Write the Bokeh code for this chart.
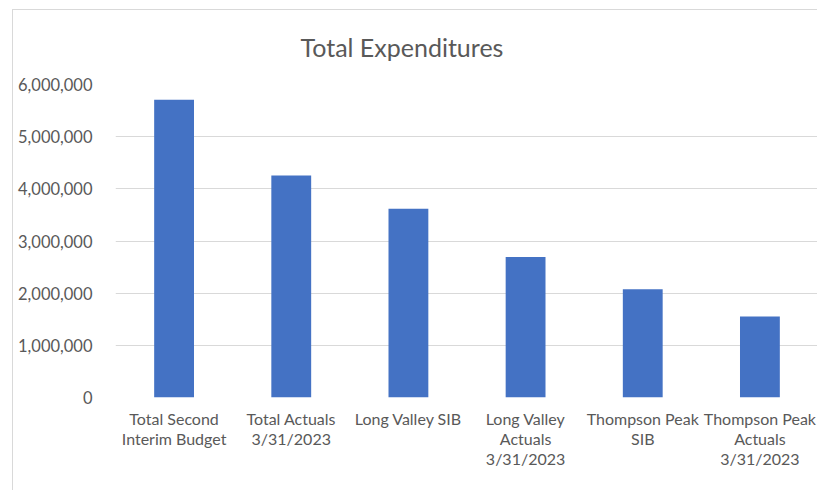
from bokeh.plotting import figure
from bokeh.models import (FixedTicker, NumeralTickFormatter, Title, CategoricalAxis,
                          CustomJSTickFormatter)
from bokeh.embed import file_html
from bokeh.resources import INLINE

categories = [
    "Total Second\nInterim Budget",
    "Total Actuals\n3/31/2023",
    "Long Valley SIB",
    "Long Valley\nActuals\n3/31/2023",
    "Thompson Peak\nSIB",
    "Thompson Peak\nActuals\n3/31/2023",
]
expenditures = [5708000, 4255000, 3620000, 2695000, 2073000, 1555000]
y_ticks = [0, 1000000, 2000000, 3000000, 4000000, 5000000, 6000000]

FONT = "Lato"
GREY = "#595959"

p = figure(x_range=categories, y_range=(0, 6000000), width=805, height=481,
           output_backend="svg", toolbar_location=None,
           min_border_left=102, min_border_right=0, min_border_top=74,
           min_border_bottom=94)
p.margin = (9, 0, 0, 12)
p.styles = {"border-left": "1px solid #d9d9d9", "border-top": "1px solid #d9d9d9"}
p.title = None
p.add_layout(Title(text="Total Expenditures", text_font=FONT, text_font_size="25px",
                   text_color=GREY, text_font_style="normal", align="left",
                   vertical_align="top", offset=185, standoff=41), "above")

p.vbar(x=categories, top=expenditures, width=0.34, color="#4472C4", line_color=None)

p.outline_line_color = None
p.xgrid.grid_line_color = None
p.ygrid.grid_line_color = "#d9d9d9"
p.ygrid.grid_line_width = 1

p.yaxis.ticker = FixedTicker(ticks=y_ticks)
p.yaxis.formatter = NumeralTickFormatter(format="0,0")


def style_axis(ax, standoff, size):
    ax.axis_line_color = None
    ax.major_tick_line_color = None
    ax.minor_tick_line_color = None
    ax.major_tick_out = 0
    ax.major_tick_in = 0
    ax.major_label_text_font = FONT
    ax.major_label_text_font_size = size
    ax.major_label_text_color = GREY
    ax.major_label_standoff = standoff


style_axis(p.yaxis[0], 23, "16.5px")

# category labels: one axis per text line, stacked below the plot
line_code = "const parts = String(tick).split('\\n'); return parts.length > %d ? parts[%d] : '';"
p.xaxis[0].formatter = CustomJSTickFormatter(code=line_code % (0, 0))
p.xaxis[0].major_label_orientation = "horizontal"
style_axis(p.xaxis[0], 11, "16px")
for k in (1, 2):
    ax = CategoricalAxis(formatter=CustomJSTickFormatter(code=line_code % (k, k)),
                         major_label_orientation="horizontal")
    style_axis(ax, -2, "16px")
    p.add_layout(ax, "below")

open("out.html", "w").write(file_html(p, INLINE))
